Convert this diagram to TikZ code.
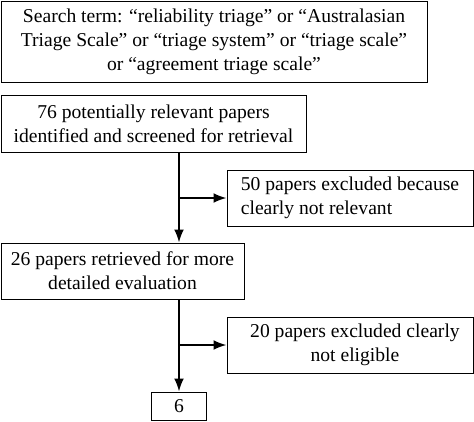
\documentclass[tikz,border=0pt]{standalone}
\usepackage{fontspec}
\setmainfont{Liberation Serif}
\usepackage{tikz}
\usetikzlibrary{arrows.meta}

\tikzset{
  box/.style={draw, line width=1pt, inner sep=0pt, align=center,
    font=\fontsize{19.6}{24}\selectfont},
  flow/.style={line width=2pt, -{Latex[length=13pt,width=10pt]}}
}

\begin{document}
\begin{tikzpicture}[x=1pt, y=-1pt]

\useasboundingbox (0,0) rectangle (474,421);

\node[box, minimum width=426pt, minimum height=81pt] (search) at (214.0, 41.5)
  {Search term: “reliability triage” or “Australasian\\
   Triage Scale” or “triage system” or “triage scale”\\
   or “agreement triage scale”} ;
\node[box, minimum width=305pt, minimum height=57pt] (found) at (153.5, 123.5)
  {76 potentially relevant papers\\ identified and screened for retrieval} ;
\node[box, minimum width=246pt, minimum height=56pt, align=left] (excl1) at (350.0, 198.0)
  {50 papers excluded because\\ clearly not relevant} ;
\node[box, minimum width=243pt, minimum height=56pt] (retr) at (122.5, 271.0)
  {26 papers retrieved for more\\ detailed evaluation} ;
\node[box, minimum width=246pt, minimum height=56pt] (excl2) at (350.0, 345.0)
  {\hspace*{10pt}20 papers excluded clearly\\ \hspace*{10pt}not eligible} ;
\node[box, minimum width=55pt, minimum height=28pt] (final) at (179.0, 406.0) {6} ;

\draw[flow] (found.south -| final.north) -- (retr.north -| final.north) ;
\draw[flow] (excl1.west -| final.north) -- (excl1.west) ;
\draw[flow] (retr.south -| final.north) -- (final.north) ;
\draw[flow] (excl2.west -| final.north) -- (excl2.west) ;

\end{tikzpicture}
\end{document}
